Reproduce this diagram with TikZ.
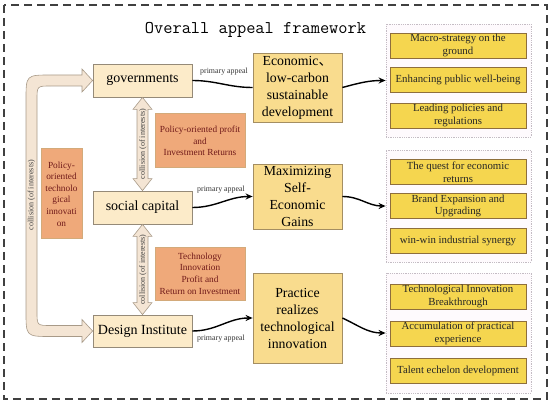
\documentclass[tikz,border=0pt]{standalone}
\usepackage{fontspec}
\setmainfont{Liberation Serif}
\newfontfamily\cjk{Noto Sans CJK SC}
\usetikzlibrary{arrows.meta,calc}
\definecolor{cream}{HTML}{FCEBC9}
\definecolor{creamline}{HTML}{958A78}
\definecolor{midyellow}{HTML}{F9DC8E}
\definecolor{midline}{HTML}{A48E62}
\definecolor{itemyellow}{HTML}{F5D64F}
\definecolor{itemline}{HTML}{8E6E3C}
\definecolor{orangefill}{HTML}{EFA97A}
\definecolor{orangeline}{HTML}{D3AA7A}
\definecolor{orangetext}{HTML}{701A1A}
\definecolor{arrowfill}{HTML}{F4E5D4}
\definecolor{arrowline}{HTML}{A89A88}
\definecolor{groupline}{HTML}{C4BCC4}
\definecolor{groupfill}{HTML}{FEFAFD}
\begin{document}
\begin{tikzpicture}[x=1pt,y=-1pt,
  actor/.style={draw=creamline,fill=cream,line width=0.8pt,inner sep=0pt,
    minimum width=99pt,font=\fontsize{14}{16}\selectfont},
  goal/.style={draw=midline,fill=midyellow,line width=0.8pt,inner sep=0pt,
    minimum width=89pt,align=center,font=\fontsize{13.8}{17}\selectfont},
  item/.style={draw=itemline,fill=itemyellow,line width=0.8pt,inner sep=0pt,
    minimum width=136pt,minimum height=25pt,align=center,
    font=\fontsize{10.8}{12.8}\selectfont,text=black!85},
  group/.style={draw=groupline,fill=groupfill,densely dotted,line width=0.8pt,
    inner sep=0pt,minimum width=145pt},
  profit/.style={draw=orangeline,fill=orangefill,line width=1pt,inner sep=0pt,
    align=center,text=orangetext,font=\fontsize{9.3}{11.6}\selectfont},
  appeal/.style={font=\fontsize{7.9}{9}\selectfont,text=black!80},
  collide/.style={font=\fontsize{8}{9}\selectfont,text=black!75,rotate=90},
  conn/.style={line width=1.4pt,black},
  arr/.style={conn,-{Stealth[length=7pt,width=6pt]}},
  dblarrow/.style={draw=arrowline,fill=arrowfill,line width=0.6pt}
]
\useasboundingbox (0,0) rectangle (550,404);
\draw[line width=1.3pt,black!75,dash pattern=on 8pt off 5pt] (4,5) rectangle (547,399);

\node (title) at (255.5,30) {\fontsize{17.9}{20}\ttfamily Overall appeal framework};

% groups
\node[group,minimum height=113pt] (g1) at (458.5,80.5) {};
\node[group,minimum height=112pt] (g2) at (458.5,206) {};
\node[group,minimum height=120pt] (g3) at (458.5,333) {};

\node[item] (i11) at (458,45.5) {Macro-strategy on the\\ground};
\node[item] (i12) at (458,80) {Enhancing public well-being};
\node[item] (i13) at (458,115.5) {Leading policies and\\regulations};
\node[item] (i21) at (458,172) {The quest for economic\\returns};
\node[item] (i22) at (458,206) {Brand Expansion and\\Upgrading};
\node[item] (i23) at (458,241) {win-win industrial synergy};
\node[item] (i31) at (458,296.5) {Technological Innovation\\Breakthrough};
\node[item] (i32) at (458,333.5) {Accumulation of practical\\experience};
\node[item] (i33) at (458,370.5) {Talent echelon development};

% actors
\node[actor,minimum height=33pt] (gov) at (142.5,80.5) {governments};
\node[actor,minimum height=33pt] (soc) at (142.5,207.5) {social capital};
\node[actor,minimum height=32pt] (des) at (142.5,331) {Design Institute};

% goals
\node[goal,minimum height=69pt] (eco) at (297.5,87.5) {Economic{\cjk 、}\\low-carbon\\sustainable\\development};
\node[goal,minimum height=65pt] (max) at (297.5,196.5) {Maximizing\\Self-\\Economic\\Gains};
\node[goal,minimum height=90pt] (pra) at (297.5,318) {Practice\\realizes\\technological\\innovation};

% profit boxes
\node[profit,minimum width=90pt,minimum height=54pt] (o1) at (200,141) {Policy-oriented profit\\and\\Investment Returns};
\node[profit,minimum width=90pt,minimum height=53pt] (o2) at (200,273.5) {Technology\\Innovation\\Profit and\\Return on Investment};
\node[profit,minimum width=41pt,minimum height=90pt] (o3) at (61.5,194) {Policy-\\oriented\\technolo\\gical\\innovati\\on};

% vertical double arrows
\draw[dblarrow] (gov.south) -- ++(9.5,12) -- ++(-4,0) -- ($(soc.north)+(5.5,-12)$) -- ++(4,0)
  -- (soc.north) -- ++(-9.5,-12) -- ++(4,0) -- ($(gov.south)+(-5.5,12)$) -- ++(-4,0) -- cycle;
\draw[dblarrow] (soc.south) -- ++(9.5,12) -- ++(-4,0) -- ($(des.north)+(5.5,-12)$) -- ++(4,0)
  -- (des.north) -- ++(-9.5,-12) -- ++(4,0) -- ($(soc.south)+(-5.5,12)$) -- ++(-4,0) -- cycle;
\node[collide] (c1) at (143,144) {collision (of interests)};
\node[collide] (c2) at (143,269.5) {collision (of interests)};

% U-shaped double arrow
\draw[dblarrow] (gov.west) -- (82,92) -- (82,86) -- (51,86) .. controls (37,86) .. (37,100)
  -- (37,311.5) .. controls (37,325.5) .. (51,325.5) -- (82,325.5) -- (82,319.5)
  -- (des.west) -- (82,342.5) -- (82,336.5) -- (51,336.5) .. controls (26,336.5) .. (26,311.5)
  -- (26,100) .. controls (26,75) .. (51,75) -- (82,75) -- (82,69) -- cycle;
\node[collide] (c3) at (31.5,195) {collision (of interests)};

% connectors
\draw[conn] (gov.east) to[out=0,in=180] (eco.west);
\draw[arr] (soc.east) to[out=0,in=180] (max.west);
\draw[arr] (des.east) to[out=0,in=180] (pra.west);
\draw[arr] (eco.east) to[out=15,in=180] (g1.west);
\draw[arr] (max.east) to[out=0,in=180] (g2.west);
\draw[arr] (pra.east) to[out=-25,in=180] (g3.west);

\node[appeal] (a1) at (224,72) {primary appeal};
\node[appeal] (a2) at (221,190) {primary appeal};
\node[appeal] (a3) at (221,339) {primary appeal};
\end{tikzpicture}
\end{document}
